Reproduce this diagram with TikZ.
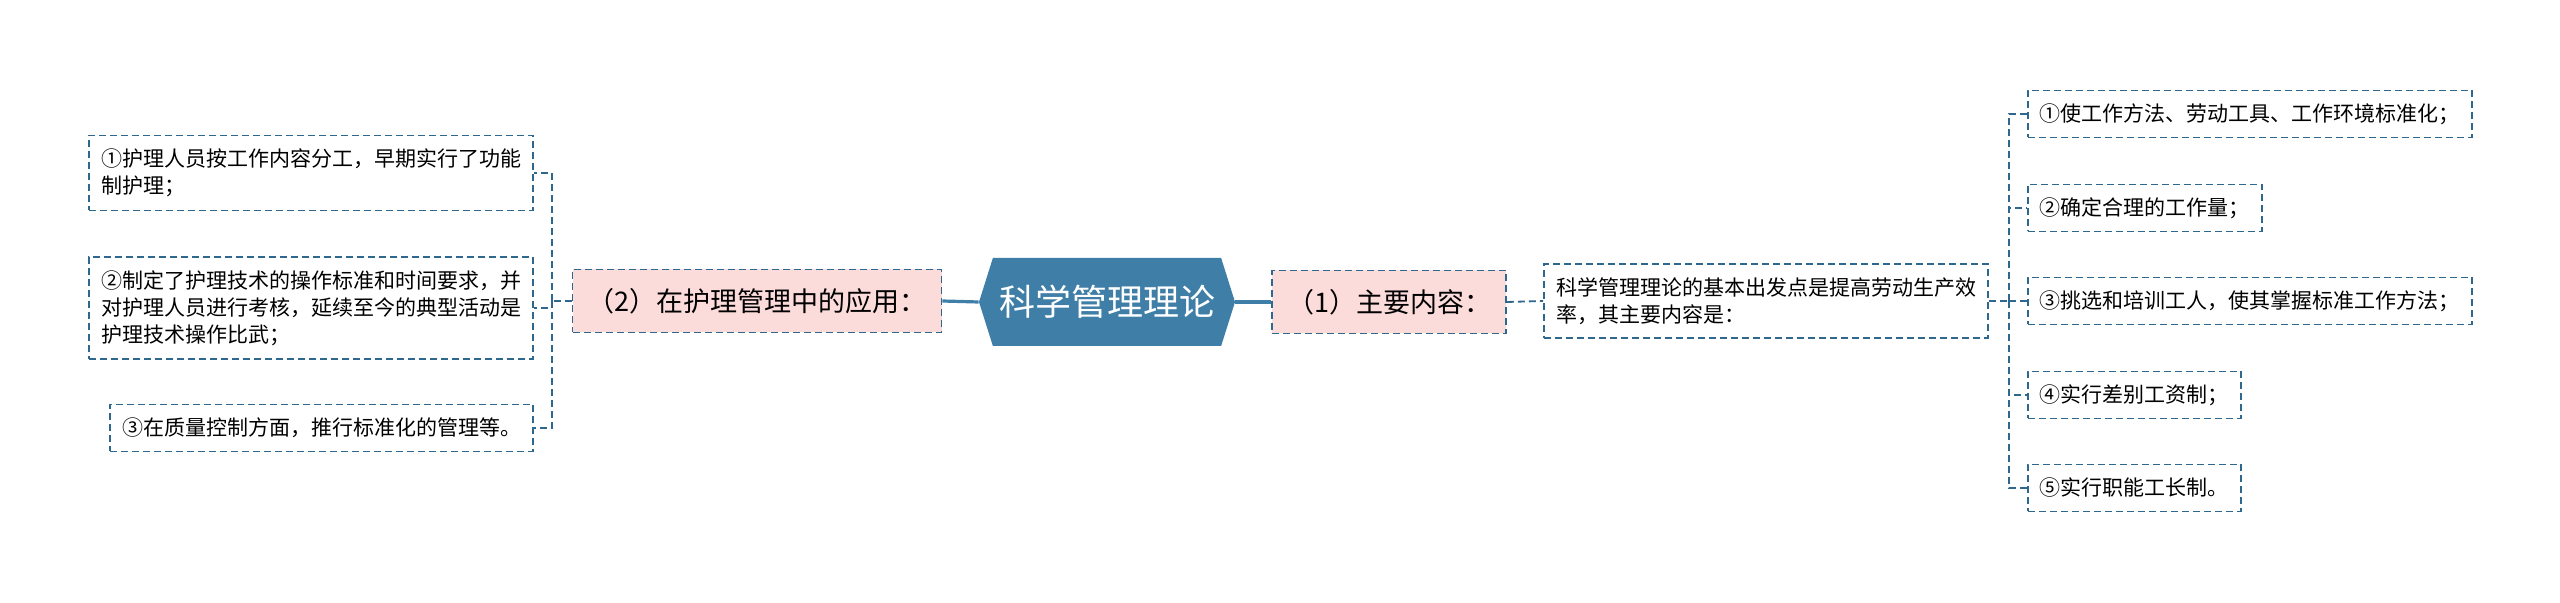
\documentclass[tikz,border=0pt]{standalone}
\usepackage{fontspec}
\setmainfont{Noto Sans CJK SC}
\usetikzlibrary{shapes.symbols}
\definecolor{HexBlue}{RGB}{63,126,167}
\definecolor{DashBlue}{RGB}{46,104,142}
\definecolor{BranchPink}{RGB}{252,219,219}

\begin{document}
\begin{tikzpicture}[x=0.5pt,y=-0.5pt,
    rootbox/.style={shape=signal,signal to=west and east,signal pointer angle=145,
      fill=HexBlue,text=white,font=\fontsize{18pt}{22pt}\selectfont,
      minimum width=128pt,minimum height=44pt,inner sep=0pt},
    pinkbox/.style={draw=DashBlue,line width=0.9pt,dash pattern=on 3.5pt off 2pt,
      fill=BranchPink,font=\fontsize{13.5pt}{16pt}\selectfont,
      inner xsep=7.5pt,inner ysep=0pt,minimum height=31.5pt},
    leafbox/.style={draw=DashBlue,line width=0.9pt,dash pattern=on 3.5pt off 2pt,
      fill=white,font=\fontsize{10.5pt}{13.5pt}\selectfont,align=left,
      inner xsep=6pt,inner ysep=0pt,minimum height=23.5pt},
    link/.style={DashBlue,line width=0.9pt,dash pattern=on 3.5pt off 2pt},
    trunk/.style={HexBlue,line width=1.6pt}]
  \useasboundingbox (0,0) rectangle (2560,603);

  \node[rootbox] (root) at (1107,302) {科学管理理论};
  \node[pinkbox] (p1) at (1389,302) {（1）主要内容：};
  \node[pinkbox] (p2) at (757,301) {（2）在护理管理中的应用：};

  % right side
  \node[leafbox,text width=210pt,minimum height=37pt] (mid) at (1766,301)
    {科学管理理论的基本出发点是提高劳动生产效\\率，其主要内容是：};
  \node[leafbox,anchor=west] (r1) at (2027,114) {①使工作方法、劳动工具、工作环境标准化；};
  \node[leafbox,anchor=west] (r2) at (2027,208) {②确定合理的工作量；};
  \node[leafbox,anchor=west] (r3) at (2027,301) {③挑选和培训工人，使其掌握标准工作方法；};
  \node[leafbox,anchor=west] (r4) at (2027,395) {④实行差别工资制；};
  \node[leafbox,anchor=west] (r5) at (2027,488) {⑤实行职能工长制。};

  % left side
  \node[leafbox,anchor=east,text width=210pt,minimum height=37.5pt] (l1) at (534,173)
    {①护理人员按工作内容分工，早期实行了功能\\制护理；};
  \node[leafbox,anchor=east,text width=210pt,minimum height=51pt] (l2) at (534,308)
    {②制定了护理技术的操作标准和时间要求，并\\对护理人员进行考核，延续至今的典型活动是\\护理技术操作比武；};
  \node[leafbox,anchor=east] (l3) at (534,428) {③在质量控制方面，推行标准化的管理等。};

  \draw[trunk] (root.west) -- (p2.east);
  \draw[trunk] (root.east) -- (p1.west);
  \draw[link] (p1.east) -- (mid.west);
  \draw[link] (mid.east) -- ++(20,0) coordinate (rj);
  \foreach \i in {1,...,5} \draw[link] (rj) |- (r\i.west);
  \draw[link] (p2.west) -- ++(-20,0) coordinate (lj);
  \foreach \i in {1,2,3} \draw[link] (lj) |- (l\i.east);
\end{tikzpicture}
\end{document}
